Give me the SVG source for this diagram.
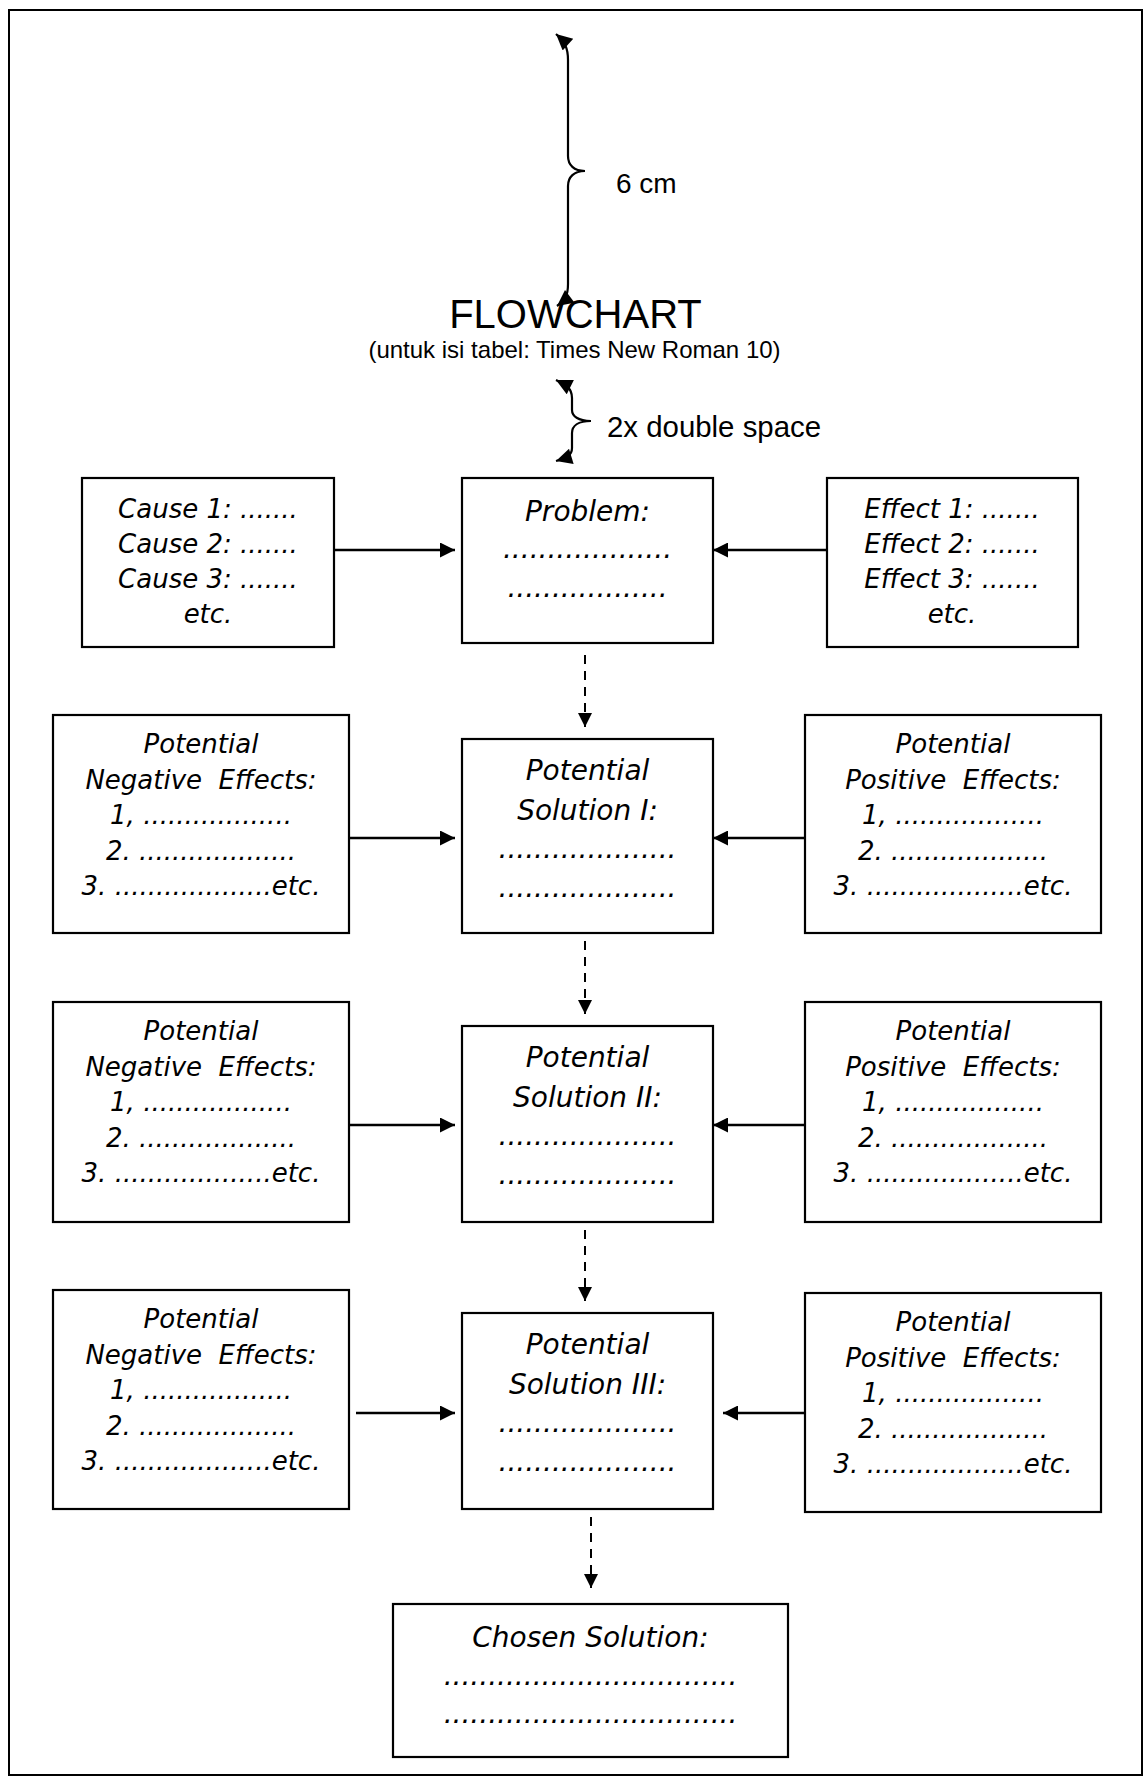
<svg xmlns="http://www.w3.org/2000/svg" width="1148" height="1780" viewBox="0 0 1148 1780">
  <style>
    .frame { fill: none; stroke: #000; stroke-width: 2; }
    .box { fill: #fff; stroke: #000; stroke-width: 2.2; }
    .side { font-family: "DejaVu Sans", "Noto Sans", sans-serif; font-style: italic; font-size: 26px; text-anchor: middle; white-space: pre; }
    .main { font-family: "DejaVu Sans", "Noto Sans", sans-serif; font-style: italic; font-size: 28px; text-anchor: middle; white-space: pre; }
    .note { font-family: "Liberation Sans", Arial, sans-serif; fill: #000; }
    .flow { stroke: #000; stroke-width: 2.6; fill: none; }
    .step { stroke: #000; stroke-width: 2; fill: none; stroke-dasharray: 9 7; }
    .brace { stroke: #000; stroke-width: 2.2; fill: none; }
  </style>
  <defs>
    <marker id="head" viewBox="0 0 10 10" refX="10" refY="5" markerUnits="userSpaceOnUse" markerWidth="15" markerHeight="15" orient="auto">
      <path d="M0,0 L10,5 L0,10 z" fill="#000"/>
    </marker>
    <marker id="dhead" viewBox="0 0 10 10" refX="10" refY="5" markerUnits="userSpaceOnUse" markerWidth="14" markerHeight="15" orient="auto">
      <path d="M0,0 L10,5 L0,10 z" fill="#000"/>
    </marker>
    <marker id="bhead" viewBox="0 0 10 10" refX="10" refY="5" markerUnits="userSpaceOnUse" markerWidth="18" markerHeight="16" orient="auto-start-reverse">
      <path d="M0,0 L10,5 L0,10 z" fill="#000"/>
    </marker>
  </defs>

  <!-- page frame -->
  <rect class="frame" x="9" y="10" width="1133" height="1765"/>

  <!-- heading area with spacing braces -->
  <g id="heading">
    <path class="brace" d="M556,34 C565,42 568,48 568,60 L568,156 C568,165 574,171 585,171 C574,171 568,177 568,186 L568,284 C568,296 565,300 557,306" marker-start="url(#bhead)" marker-end="url(#bhead)"/>
    <text class="note" x="616" y="193" font-size="28">6 cm</text>
    <text class="note" x="575.5" y="328" font-size="40" text-anchor="middle">FLOWCHART</text>
    <text class="note" x="574.5" y="358" font-size="24" text-anchor="middle">(untuk isi tabel: Times New Roman 10)</text>
    <path class="brace" d="M556,380 C566,385 572,388 572,398 L572,410 C572,416 578,421 591,421 C578,421 572,426 572,433 L572,448 C572,456 566,458 556,461" marker-start="url(#bhead)" marker-end="url(#bhead)"/>
    <text class="note" x="607" y="437" font-size="29.4">2x double space</text>
  </g>

  <!-- connectors -->
  <g id="connectors">
    <line class="flow" x1="334" y1="550" x2="455" y2="550" marker-end="url(#head)"/>
    <line class="flow" x1="827" y1="550" x2="713" y2="550" marker-end="url(#head)"/>
    <line class="flow" x1="349" y1="838" x2="455" y2="838" marker-end="url(#head)"/>
    <line class="flow" x1="805" y1="838" x2="713" y2="838" marker-end="url(#head)"/>
    <line class="flow" x1="349" y1="1125" x2="455" y2="1125" marker-end="url(#head)"/>
    <line class="flow" x1="805" y1="1125" x2="713" y2="1125" marker-end="url(#head)"/>
    <line class="flow" x1="356" y1="1413" x2="455" y2="1413" marker-end="url(#head)"/>
    <line class="flow" x1="805" y1="1413" x2="723" y2="1413" marker-end="url(#head)"/>
    <line class="step" x1="585" y1="655" x2="585" y2="727" marker-end="url(#dhead)"/>
    <line class="step" x1="585" y1="941" x2="585" y2="1014" marker-end="url(#dhead)"/>
    <line class="step" x1="585" y1="1230" x2="585" y2="1301" marker-end="url(#dhead)"/>
    <line class="step" x1="591" y1="1517" x2="591" y2="1588" marker-end="url(#dhead)"/>
  </g>

  <!-- row 1 -->
  <g id="causes">
    <rect class="box" x="82" y="478" width="252" height="169"/>
    <text class="side" x="208" y="518">Cause 1: .......</text>
    <text class="side" x="208" y="553">Cause 2: .......</text>
    <text class="side" x="208" y="588">Cause 3: .......</text>
    <text class="side" x="208" y="623">etc.</text>
  </g>
  <g id="problem">
    <rect class="box" x="462" y="478" width="251" height="165"/>
    <text class="main" x="587.5" y="521">Problem:</text>
    <text class="main" x="587.5" y="558">...................</text>
    <text class="main" x="587.5" y="597">..................</text>
  </g>
  <g id="effects">
    <rect class="box" x="827" y="478" width="251" height="169"/>
    <text class="side" x="952" y="518">Effect 1: .......</text>
    <text class="side" x="952" y="553">Effect 2: .......</text>
    <text class="side" x="952" y="588">Effect 3: .......</text>
    <text class="side" x="952" y="623">etc.</text>
  </g>

  <!-- row 2 -->
  <g id="negative-1">
    <rect class="box" x="53" y="715" width="296" height="218"/>
    <text class="side" x="201" y="753">Potential</text>
    <text class="side" x="201" y="788.5">Negative  Effects:</text>
    <text class="side" x="201" y="824">1, ..................</text>
    <text class="side" x="201" y="859.5">2. ...................</text>
    <text class="side" x="201" y="895">3. ...................etc.</text>
  </g>
  <g id="solution-1">
    <rect class="box" x="462" y="739" width="251" height="194"/>
    <text class="main" x="587.5" y="780">Potential</text>
    <text class="main" x="587.5" y="820">Solution I:</text>
    <text class="main" x="587.5" y="858">....................</text>
    <text class="main" x="587.5" y="897">....................</text>
  </g>
  <g id="positive-1">
    <rect class="box" x="805" y="715" width="296" height="218"/>
    <text class="side" x="953" y="753">Potential</text>
    <text class="side" x="953" y="788.5">Positive  Effects:</text>
    <text class="side" x="953" y="824">1, ..................</text>
    <text class="side" x="953" y="859.5">2. ...................</text>
    <text class="side" x="953" y="895">3. ...................etc.</text>
  </g>

  <!-- row 3 -->
  <g id="negative-2">
    <rect class="box" x="53" y="1002" width="296" height="220"/>
    <text class="side" x="201" y="1040">Potential</text>
    <text class="side" x="201" y="1075.5">Negative  Effects:</text>
    <text class="side" x="201" y="1111">1, ..................</text>
    <text class="side" x="201" y="1146.5">2. ...................</text>
    <text class="side" x="201" y="1182">3. ...................etc.</text>
  </g>
  <g id="solution-2">
    <rect class="box" x="462" y="1026" width="251" height="196"/>
    <text class="main" x="587.5" y="1067">Potential</text>
    <text class="main" x="587.5" y="1107">Solution II:</text>
    <text class="main" x="587.5" y="1145">....................</text>
    <text class="main" x="587.5" y="1184">....................</text>
  </g>
  <g id="positive-2">
    <rect class="box" x="805" y="1002" width="296" height="220"/>
    <text class="side" x="953" y="1040">Potential</text>
    <text class="side" x="953" y="1075.5">Positive  Effects:</text>
    <text class="side" x="953" y="1111">1, ..................</text>
    <text class="side" x="953" y="1146.5">2. ...................</text>
    <text class="side" x="953" y="1182">3. ...................etc.</text>
  </g>

  <!-- row 4 -->
  <g id="negative-3">
    <rect class="box" x="53" y="1290" width="296" height="219"/>
    <text class="side" x="201" y="1328">Potential</text>
    <text class="side" x="201" y="1363.5">Negative  Effects:</text>
    <text class="side" x="201" y="1399">1, ..................</text>
    <text class="side" x="201" y="1434.5">2. ...................</text>
    <text class="side" x="201" y="1470">3. ...................etc.</text>
  </g>
  <g id="solution-3">
    <rect class="box" x="462" y="1313" width="251" height="196"/>
    <text class="main" x="587.5" y="1354">Potential</text>
    <text class="main" x="587.5" y="1394">Solution III:</text>
    <text class="main" x="587.5" y="1432">....................</text>
    <text class="main" x="587.5" y="1471">....................</text>
  </g>
  <g id="positive-3">
    <rect class="box" x="805" y="1293" width="296" height="219"/>
    <text class="side" x="953" y="1331">Potential</text>
    <text class="side" x="953" y="1366.5">Positive  Effects:</text>
    <text class="side" x="953" y="1402">1, ..................</text>
    <text class="side" x="953" y="1437.5">2. ...................</text>
    <text class="side" x="953" y="1473">3. ...................etc.</text>
  </g>

  <!-- outcome -->
  <g id="chosen-solution">
    <rect class="box" x="393" y="1604" width="395" height="153"/>
    <text class="main" x="590.5" y="1647">Chosen Solution:</text>
    <text class="main" x="590.5" y="1685">.................................</text>
    <text class="main" x="590.5" y="1723">.................................</text>
  </g>
</svg>
